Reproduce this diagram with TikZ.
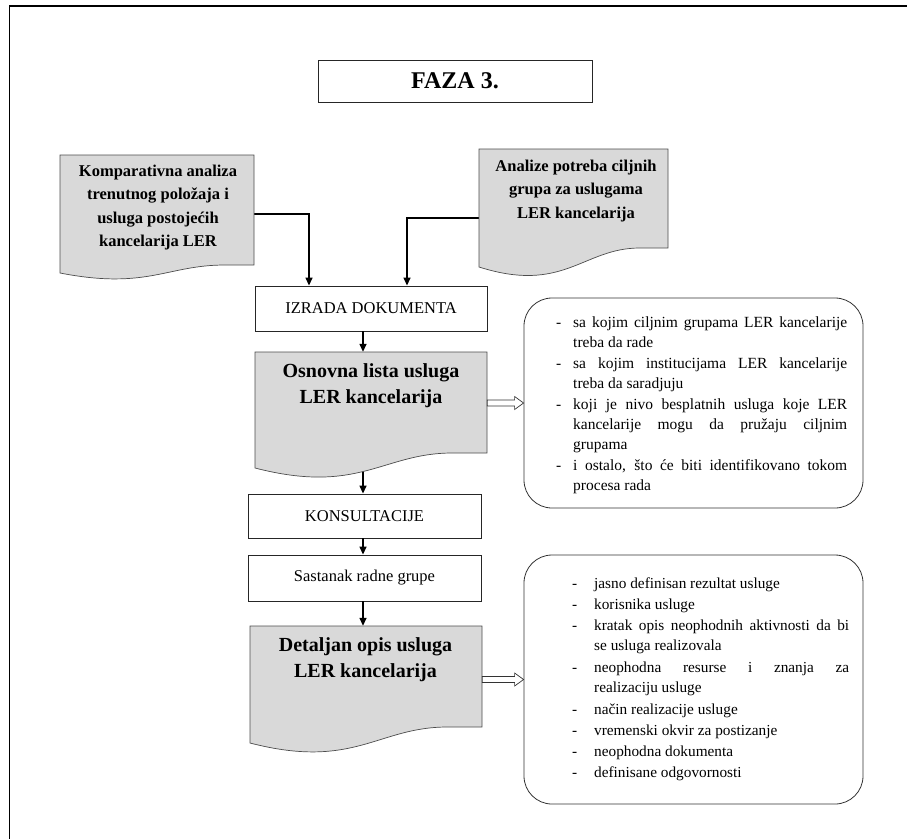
\documentclass[tikz,border=0pt]{standalone}
\usepackage{fontspec}
\setmainfont{Liberation Serif}
\usetikzlibrary{arrows.meta,calc}
\definecolor{docgray}{HTML}{D9D9D9}
\newcommand\docshape[6]{% l, t, r, lb, rb, ctrl
  \filldraw[docsty] (#1,#2) -- (#3,#2) -- (#3,#5) -- ({#1+0.85*(#3-#1)},#5)
    .. controls ({#1+0.55*(#3-#1)},#5) and ({#1+0.45*(#3-#1)},#6) .. (#1,#4) -- cycle;}
\newcommand\hollowarr[2]{%
  \draw[hollowsty] ([yshift=3pt]#1) -- ([xshift=-9pt,yshift=3pt]#2) -- ([xshift=-9pt,yshift=6.5pt]#2)
    -- (#2) -- ([xshift=-9pt,yshift=-6.5pt]#2) -- ([xshift=-9pt,yshift=-3pt]#2) -- ([yshift=-3pt]#1) -- cycle;}
\newcommand\itm[3]{\noindent\makebox[#1][l]{-}\parbox[t]{#2}{\hyphenpenalty=10000\relax\strut #3\strut}\par}
\begin{document}
\begin{tikzpicture}[x=1pt,y=-1pt,
  procbox/.style={draw=black!85, line width=0.9pt, inner sep=0pt, align=center,
    font=\fontsize{16.5}{20}\selectfont},
  doctext/.style={align=center, inner sep=0pt, font=\bfseries\fontsize{16.5}{23.5}\selectfont},
  bigdoctext/.style={align=center, inner sep=0pt, font=\bfseries\fontsize{20}{26}\selectfont},
  shapebox/.style={inner sep=0pt, draw=none},
  docsty/.style={fill=docgray, draw=black!70, line width=0.7pt},
  arr/.style={line width=1.4pt, -{Triangle[length=8pt,width=7pt]}},
  roundbox/.style={draw=black!80, line width=0.8pt, rounded corners=28pt, inner sep=0pt},
  hollowsty/.style={draw=black!80, line width=0.7pt, fill=white},
  listtext/.style={inner sep=0pt, anchor=north west}
]
\useasboundingbox (0,0) rectangle (907,839);
% frame
\draw[line width=2.6pt] (9,6) -- (907,6);
\draw[line width=1.6pt] (9.5,5) -- (9.5,839);

% title
\node[procbox, minimum width=274, minimum height=42, font=\bfseries\fontsize{24}{28}\selectfont] (faza) at (455,81) {FAZA 3.};

% process boxes
\node[procbox, minimum width=232, minimum height=45] (izr) at (371,308.5) {IZRADA DOKUMENTA};
\node[procbox, minimum width=233, minimum height=44] (kons) at (364.5,516) {KONSULTACIJE};
\node[procbox, minimum width=233, minimum height=46] (sast) at (364.5,578) {Sastanak radne grupe};

% document shape placeholders
\node[shapebox, minimum width=194, minimum height=118] (komp) at (157,214) {};
\node[shapebox, minimum width=189, minimum height=118] (anal) at (573.5,208) {};
\node[shapebox, minimum width=232, minimum height=116] (osn) at (371,410) {};
\node[shapebox, minimum width=232, minimum height=117] (det) at (366,684.5) {};

% rounded boxes
\node[roundbox, minimum width=339, minimum height=210] (r1) at (693.5,403) {};
\node[roundbox, minimum width=339, minimum height=249] (r2) at (693.5,679.5) {};

% helper coordinates
\coordinate (vx) at (363,0);
\coordinate (kx) at (309,0);
\coordinate (ax) at (407,0);

% connectors (drawn before document shapes so shapes cover the tails)
\draw[arr] (komp.east) -| (izr.north -| kx);
\draw[arr] ([yshift=-10pt]anal.west) -| (izr.north -| ax);
\draw[arr] (izr.south -| vx) -- (osn.north -| vx);
\draw[arr] (osn.south -| vx) -- (kons.north -| vx);
\draw[arr] (kons.south -| vx) -- (sast.north -| vx);
\draw[arr] (sast.south -| vx) -- (det.north -| vx);

% document shapes
\docshape{60}{155}{254}{273}{265}{290}
\docshape{479}{149}{668}{267}{248}{294}
\docshape{255}{352}{487}{468}{453}{495}
\docshape{250}{626}{482}{743}{727}{770}

% document texts
\node[doctext] (kompT) at (158,207.5) {Komparativna analiza\\trenutnog položaja i\\usluga postojećih\\kancelarija LER};
\node[doctext] (analT) at (576,191) {Analize potreba ciljnih\\grupa za uslugama\\LER kancelarija};
\node[bigdoctext] (osnT) at (371,385.5) {Osnovna lista usluga\\LER kancelarija};
\node[bigdoctext] (detT) at (365.5,659.5) {Detaljan opis usluga\\LER kancelarija};

% hollow arrows
\hollowarr{osn.east |- r1.west}{r1.west}
\hollowarr{det.east |- r2.west}{r2.west}

% list texts
\node[listtext] (l1) at (556,313.5) {\begin{minipage}[t]{291pt}%
\fontsize{15.5}{20}\selectfont\setlength{\parskip}{0pt}%
\itm{17pt}{274pt}{sa kojim ciljnim grupama LER kancelarije\linebreak treba da rade}%
\itm{17pt}{274pt}{sa kojim institucijama LER kancelarije\linebreak treba da saradjuju}%
\itm{17pt}{274pt}{koji je nivo besplatnih usluga koje LER\linebreak kancelarije mogu da pružaju ciljnim\linebreak grupama}%
\itm{17pt}{274pt}{i ostalo, što će biti identifikovano tokom\linebreak procesa rada}%
\end{minipage}};
\node[listtext] (l2) at (572,574) {\begin{minipage}[t]{277pt}%
\fontsize{15.3}{20}\selectfont\setlength{\parskip}{1pt}%
\itm{22pt}{255pt}{jasno definisan rezultat usluge}%
\itm{22pt}{255pt}{korisnika usluge}%
\itm{22pt}{255pt}{kratak opis neophodnih aktivnosti da bi\linebreak se usluga realizovala}%
\itm{22pt}{255pt}{neophodna resurse i znanja za\linebreak realizaciju usluge}%
\itm{22pt}{255pt}{način realizacije usluge}%
\itm{22pt}{255pt}{vremenski okvir za postizanje}%
\itm{22pt}{255pt}{neophodna dokumenta}%
\itm{22pt}{255pt}{definisane odgovornosti}%
\end{minipage}};
\end{tikzpicture}
\end{document}
